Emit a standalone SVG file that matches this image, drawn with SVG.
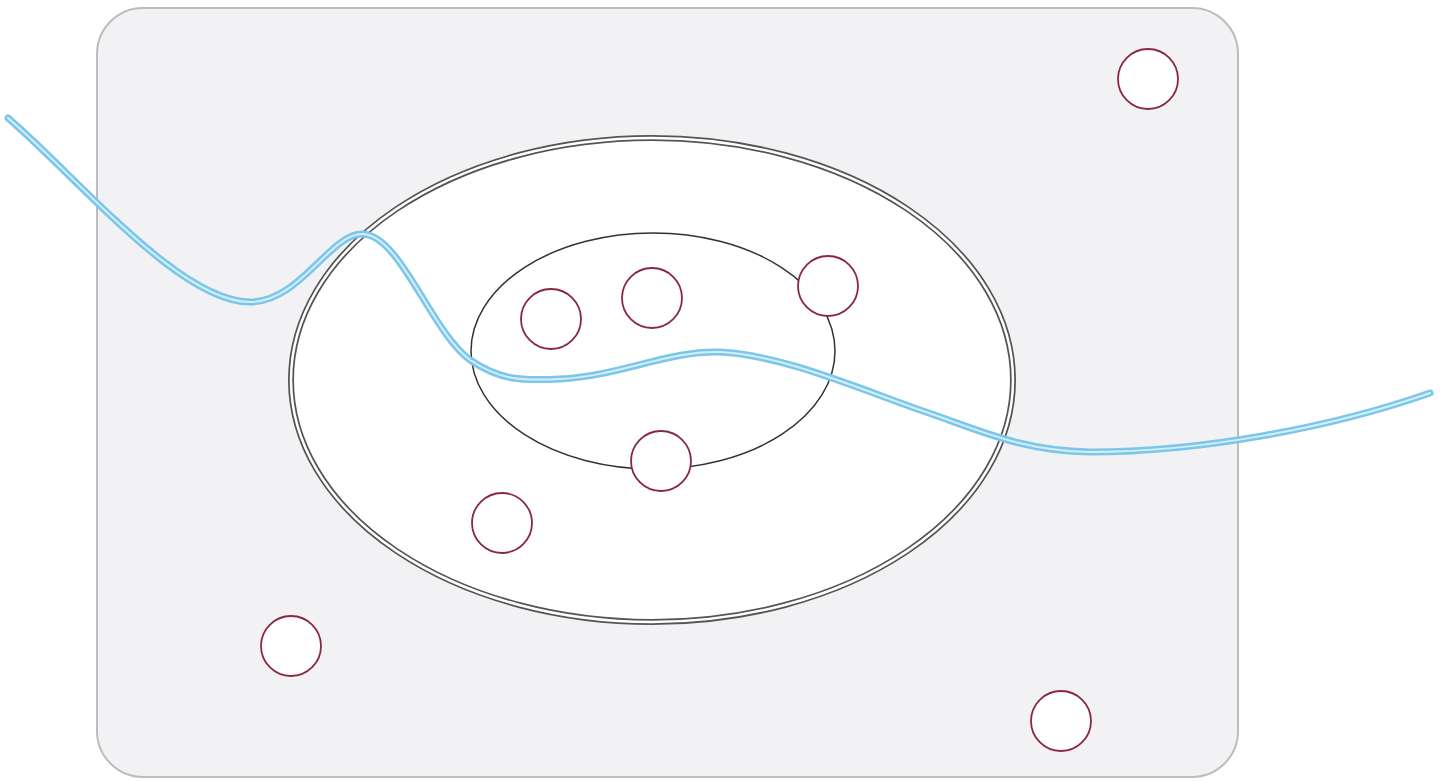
<svg xmlns="http://www.w3.org/2000/svg" width="1441" height="781" viewBox="0 0 1441 781">
<style>
.node{fill:#ffffff;stroke:#8a2840;stroke-width:1.8}
.wire1{fill:none;stroke:#7cc6ea;stroke-width:7;stroke-linecap:round}
.wire2{fill:none;stroke:#d4eefa;stroke-width:2;stroke-linecap:round}
</style>
<rect width="1441" height="781" fill="#ffffff"/>
<g id="plate">
<rect x="97" y="8" width="1141" height="769" rx="46" ry="46" fill="#f2f2f4" stroke="#bcbcbc" stroke-width="2"/>
</g>
<g id="outer-ring">
<ellipse cx="652" cy="380" rx="361" ry="242" fill="#ffffff" stroke="#555555" stroke-width="6"/>
<ellipse cx="652" cy="380" rx="361" ry="242" fill="none" stroke="#ffffff" stroke-width="2.5"/>
</g>
<g id="inner-ring">
<ellipse cx="653" cy="351" rx="182" ry="118" fill="none" stroke="#333333" stroke-width="1.5"/>
</g>
<g id="connectors">
<path class="wire1" d="M8,118 C80,180 180,302 250,302 C300,302 330,234 362,234 C400,234 430,330 470,360 C500,380 520,381 560,379 C620,376 670,350 720,352 C780,355 850,385 920,410 C980,430 1020,451 1090,452 C1200,452 1330,428 1430,393"/>
<path class="wire2" d="M8,118 C80,180 180,302 250,302 C300,302 330,234 362,234 C400,234 430,330 470,360 C500,380 520,381 560,379 C620,376 670,350 720,352 C780,355 850,385 920,410 C980,430 1020,451 1090,452 C1200,452 1330,428 1430,393"/>
</g>
<g id="n1"><circle class="node" cx="1148" cy="79" r="30"/></g>
<g id="n2"><circle class="node" cx="551" cy="319" r="30"/></g>
<g id="n3"><circle class="node" cx="652" cy="298" r="30"/></g>
<g id="n4"><circle class="node" cx="828" cy="286" r="30"/></g>
<g id="n5"><circle class="node" cx="661" cy="461" r="30"/></g>
<g id="n6"><circle class="node" cx="502" cy="523" r="30"/></g>
<g id="n7"><circle class="node" cx="291" cy="646" r="30"/></g>
<g id="n8"><circle class="node" cx="1061" cy="721" r="30"/></g>
</svg>
